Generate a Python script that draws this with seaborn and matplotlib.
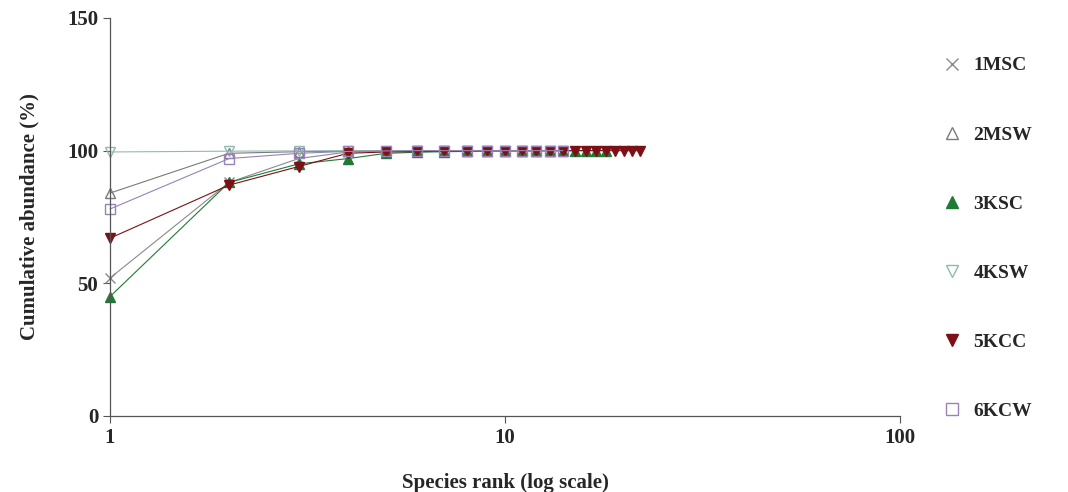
import numpy as np
import seaborn as sns
import matplotlib.pyplot as plt
from matplotlib.lines import Line2D
from matplotlib.ticker import NullLocator, FixedLocator, FixedFormatter

labels = ["1MSC", "2MSW", "3KSC", "4KSW", "5KCC", "6KCW"]

msc1 = [52, 88, 97, 99.5, 99.8, 99.9, 100, 100, 100, 100, 100, 100, 100, 100, 100]
msw2 = [84, 99, 99.6, 99.8, 99.9, 100, 100, 100, 100, 100, 100, 100, 100]
ksc3 = [45, 88, 95, 97, 99, 99.4, 99.6, 99.7, 99.8, 99.9, 99.9, 100, 100, 100, 100, 100, 100, 100]
ksw4 = [99.5, 99.8, 99.9, 100, 100, 100, 100, 100, 100, 100, 100]
kcc5 = [67, 87, 94, 99, 99.5, 99.7, 99.8, 99.9, 100, 100, 100, 100, 100, 100, 100, 100, 100, 100, 100, 100, 100, 100]
kcw6 = [78, 97, 99, 99.7, 99.9, 100, 100, 100, 100, 100, 100, 100, 100, 100]

series = [msc1, msw2, ksc3, ksw4, kcc5, kcw6]
colors = ["#8a8a8a", "#7a7a7a", "#1f7a35", "#8fbab2", "#7b1016", "#9a82b6"]
markers = ["x", "^", "^", "v", "v", "s"]
filled = [True, False, True, False, True, False]

sns.set_style("ticks")
plt.rcParams["font.family"] = ["Liberation Serif", "DejaVu Serif"]
plt.rcParams["font.weight"] = "bold"

fig = plt.figure(figsize=(10.68, 4.92), dpi=100)
ax = fig.add_axes([0.103, 0.1545, 0.740, 0.809])

handles = []
for vals, lab, c, m, f in zip(series, labels, colors, markers, filled):
    rank = np.arange(1, len(vals) + 1)
    mfc = c if f else "none"
    sns.lineplot(x=rank, y=vals, ax=ax, color=c, linewidth=0.8, marker=m,
                 markersize=7, markerfacecolor=mfc, markeredgecolor=c,
                 markeredgewidth=1.0, legend=False, clip_on=False)
    handles.append(Line2D([], [], linestyle="none", marker=m, color=c,
                          markersize=9, markerfacecolor=mfc,
                          markeredgecolor=c, label=lab))

ax.set_xscale("log")
ax.set_xlim(1, 100)
ax.set_ylim(0, 150)
ax.xaxis.set_major_locator(FixedLocator([1, 10, 100]))
ax.xaxis.set_major_formatter(FixedFormatter(["1", "10", "100"]))
ax.xaxis.set_minor_locator(NullLocator())
ax.set_yticks([0, 50, 100, 150])
ax.tick_params(labelsize=15, color="#555555", length=5, width=0.8)
for lbl in ax.get_xticklabels() + ax.get_yticklabels():
    lbl.set_fontweight("bold")
for s in ["top", "right"]:
    ax.spines[s].set_visible(False)
for s in ["left", "bottom"]:
    ax.spines[s].set_color("#555555")
    ax.spines[s].set_linewidth(0.9)

ax.set_xlabel("Species rank (log scale)", fontsize=15, fontweight="bold", labelpad=18)
ax.set_ylabel("Cumulative abundance (%)", fontsize=15, fontweight="bold", labelpad=20)

fig.legend(handles=handles, loc="upper left", bbox_to_anchor=(0.864, 0.92),
           frameon=False, labelspacing=2.65, handletextpad=0.5,
           handlelength=1.2, prop={"weight": "bold", "size": 14})

fig.savefig("out.png", dpi=100)
